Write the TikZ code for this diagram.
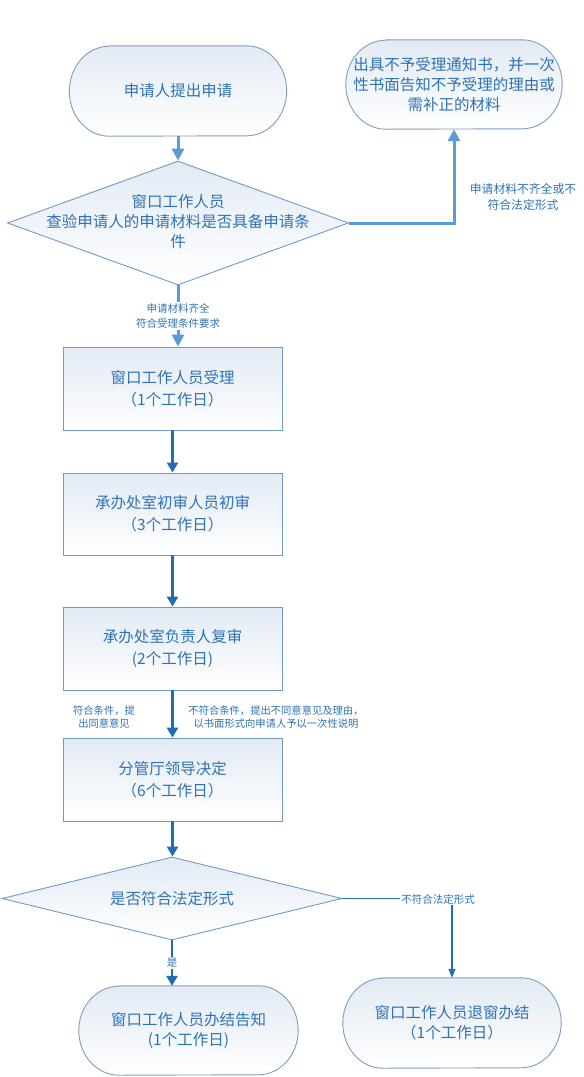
\documentclass[tikz,border=0pt]{standalone}
\usepackage{fontspec}
\setmainfont{Noto Sans CJK SC}
\usetikzlibrary{arrows.meta,shapes.geometric,calc,positioning}

\definecolor{txtblue}{HTML}{2E73B4}
\definecolor{boxedge}{HTML}{6F9BC8}
\definecolor{termedge}{HTML}{7F9EC0}
\definecolor{fillblue}{HTML}{E2EAF4}
\definecolor{arrowlt}{HTML}{5B9BD5}
\definecolor{arrowdk}{HTML}{1F6DB3}

\begin{document}
\begin{tikzpicture}[
    x=1pt, y=-1pt,
    font=\fontsize{15.5pt}{20pt}\selectfont,
    procbox/.style   = {draw=boxedge, line width=0.9pt, top color=fillblue,
                        bottom color=white, minimum width=219pt,
                        minimum height=83pt, inner sep=0pt, align=center,
                        text=txtblue, font=\fontsize{15.5pt}{22pt}\selectfont},
    decision/.style  = {diamond, draw=boxedge, line width=0.9pt,
                        top color=fillblue, bottom color=white,
                        inner sep=0pt, text=txtblue},
    termnode/.style  = {minimum width=218pt, minimum height=89pt, inner sep=0pt,
                        align=center, text=txtblue},
    termshape/.style = {draw=termedge, line width=0.9pt, top color=fillblue,
                        bottom color=white},
    flow-lt/.style   = {-{Triangle[length=12pt,width=12pt]}, line width=3pt,
                        arrowlt},
    flow-dk/.style   = {-{Triangle[length=10pt,width=11pt]}, line width=2.4pt,
                        arrowdk},
    flow-thin/.style = {-{Triangle[length=9pt,width=7pt]}, line width=1.2pt,
                        arrowdk},
    edgelbl/.style   = {font=\fontsize{10.5pt}{15pt}\selectfont, text=txtblue,
                        align=center, fill=white, inner sep=1.5pt}
  ]

% =========================================================
% Terminal outline: flat top/bottom, half-ellipse ends
% (drawn round a node of the termnode style)
% =========================================================
\newcommand{\drawterminal}[2]{%
  \path[termshape]
    ($(#1.north west)+(40pt,0pt)$) -- ($(#1.north east)+(-40pt,0pt)$)
    arc[start angle=90, end angle=-90, x radius=40pt, y radius=#2]
    -- ($(#1.south west)+(40pt,0pt)$)
    arc[start angle=270, end angle=90, x radius=40pt, y radius=#2]
    -- cycle;
}

\path[use as bounding box, fill=white] (0,0) rectangle (584,1077);

% =========================================================
% Nodes
% =========================================================
\node[termnode, minimum width=217pt, minimum height=90pt] (start) at (178,91) {};
\drawterminal{start}{45pt}
\node[termnode, minimum width=217pt, minimum height=90pt] at (start) {申请人提出申请};

\node[decision, minimum width=341pt, minimum height=124pt] (chk) at (178,223)
  {\makebox[0pt]{\begin{tabular}{@{}c@{}}窗口工作人员\\
   查验申请人的申请材料是否具备申请条\\件\end{tabular}}};

\node[termnode, minimum width=216pt] (reject) at (454,84.5) {};
\drawterminal{reject}{44.5pt}
\node[termnode, minimum width=216pt] at (reject)
  {出具不予受理通知书，并一次\\性书面告知不予受理的理由或\\需补正的材料};

\node[procbox] (box1) at (172.5,388.5) {窗口工作人员受理\\（1个工作日）};
\node[procbox, minimum height=82pt] (box2) at (172.5,514) {承办处室初审人员初审\\（3个工作日）};
\node[procbox] (box3) at (172.5,648.5) {承办处室负责人复审\\(2个工作日)};
\node[procbox] (box4) at (172.5,779.5) {分管厅领导决定\\（6个工作日）};

\node[decision, minimum width=340pt, minimum height=83pt] (form) at (172,898.5)
  {\makebox[0pt]{是否符合法定形式}};

\node[termnode, minimum width=219pt] (donetell) at (188.5,1030.5) {};
\drawterminal{donetell}{44.5pt}
\node[termnode, minimum width=219pt] at (donetell) {窗口工作人员办结告知\\(1个工作日)};

\node[termnode, minimum height=90pt] (doneback) at (452,1023) {};
\drawterminal{doneback}{45pt}
\node[termnode, minimum height=90pt] at (doneback) {窗口工作人员退窗办结\\（1个工作日）};

% =========================================================
% Connectors
% =========================================================
\draw[flow-lt] (start.south) -- (chk.north);
\draw[flow-lt] (chk.east) -- (chk.east -| reject.south) -- (reject.south);
\node[edgelbl, fill=none, font=\fontsize{11.8pt}{16pt}\selectfont] (lblreject)
  at (523,197) {申请材料不齐全或不\\符合法定形式};

\draw[flow-lt] (chk.south) -- (chk.south |- box1.north)
  node[edgelbl, pos=0.5] (lblok) {申请材料齐全\\符合受理条件要求};

\draw[flow-dk] (box1.south) -- (box2.north);
\draw[flow-dk] (box2.south) -- (box3.north);
\draw[flow-dk] (box3.south) -- (box4.north);
\node[edgelbl, fill=none, font=\fontsize{10.3pt}{13pt}\selectfont] (lblagree)
  at (104,717) {符合条件，提\\出同意意见};
\node[edgelbl, fill=none, font=\fontsize{10.3pt}{13pt}\selectfont] (lbldeny)
  at (276,717) {不符合条件，提出不同意意见及理由，\\以书面形式向申请人予以一次性说明};

\draw[flow-dk] (box4.south) -- (box4.south |- form.north);

\draw[flow-dk] (form.south) -- (form.south |- donetell.north)
  node[edgelbl, midway] (lblyes) {是};

\coordinate (turn) at (doneback.north |- form.east);
\draw[flow-thin] (form.east) -- (turn) -- (doneback.north);
\node[edgelbl] (lblnoform) at (438,899) {不符合法定形式};

\end{tikzpicture}
\end{document}
